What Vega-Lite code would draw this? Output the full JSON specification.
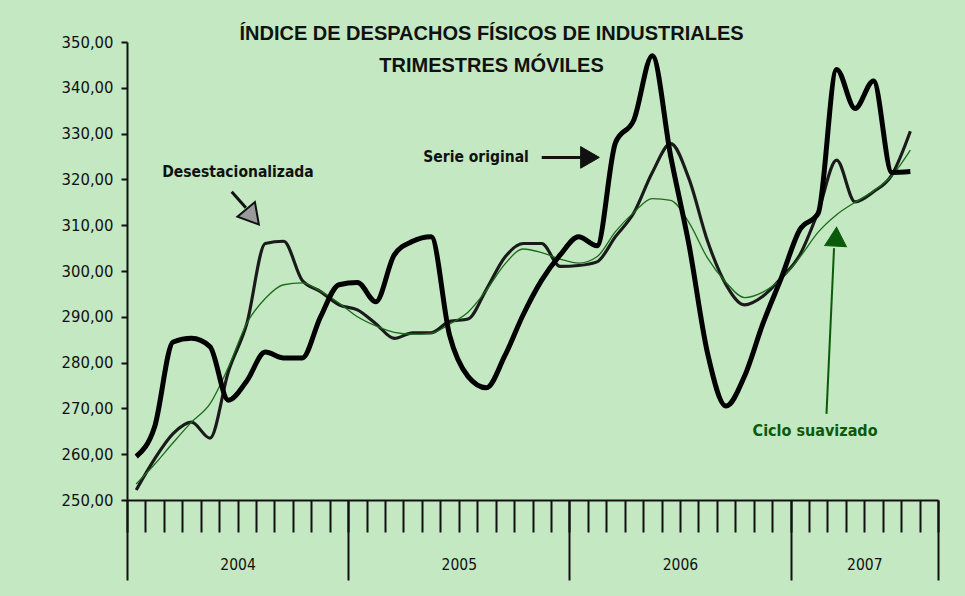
{
  "$schema": "https://vega.github.io/schema/vega-lite/v6.json",
  "width": 811,
  "height": 458,
  "autosize": "none",
  "padding": {"left": 127, "top": 42, "right": 27, "bottom": 96},
  "background": "#c3e8c2",
  "title": {
    "text": ["ÍNDICE DE DESPACHOS FÍSICOS DE INDUSTRIALES", "TRIMESTRES MÓVILES"],
    "font": "Liberation Sans",
    "fontWeight": "bold",
    "fontSize": 20,
    "lineHeight": 32,
    "anchor": "middle",
    "dx": -41,
    "offset": -62,
    "baseline": "bottom",
    "color": "#111111"
  },
  "config": {
    "view": {"stroke": null},
    "axis": {"grid": false, "domainColor": "#111111", "tickColor": "#111111", "labelColor": "#111111", "labelFont": "Liberation Sans Narrow, DejaVu Sans Condensed, sans-serif"}
  },
  "datasets": {
    "series": [
      {"m": 0.5, "original": 259.5, "desest": 252.2, "ciclo": 253.5},
      {"m": 1.5, "original": 266, "desest": 259, "ciclo": 257.8},
      {"m": 2.5, "original": 284.5, "desest": 264.5, "ciclo": 262.5},
      {"m": 3.5, "original": 285.3, "desest": 267, "ciclo": 267},
      {"m": 4.5, "original": 283.5, "desest": 263.5, "ciclo": 271},
      {"m": 5.5, "original": 271.8, "desest": 278, "ciclo": 279},
      {"m": 6.5, "original": 276, "desest": 288.5, "ciclo": 288.6},
      {"m": 7.5, "original": 282.3, "desest": 306, "ciclo": 294},
      {"m": 8.5, "original": 281, "desest": 306.5, "ciclo": 297},
      {"m": 9.5, "original": 281, "desest": 298, "ciclo": 297.4},
      {"m": 10.5, "original": 290, "desest": 295.5, "ciclo": 295.6},
      {"m": 11.5, "original": 297, "desest": 292.6, "ciclo": 293},
      {"m": 12.5, "original": 297.5, "desest": 291.5, "ciclo": 290},
      {"m": 13.5, "original": 293.3, "desest": 288.5, "ciclo": 288},
      {"m": 14.5, "original": 303.5, "desest": 285.3, "ciclo": 286.6},
      {"m": 15.5, "original": 306.5, "desest": 286.5, "ciclo": 286.2},
      {"m": 16.5, "original": 307.5, "desest": 286.5, "ciclo": 286.4},
      {"m": 17.5, "original": 286, "desest": 289, "ciclo": 288.4},
      {"m": 18.5, "original": 277, "desest": 289.5, "ciclo": 291},
      {"m": 19.5, "original": 274.5, "desest": 296, "ciclo": 295.8},
      {"m": 20.5, "original": 281.5, "desest": 303, "ciclo": 301.5},
      {"m": 21.5, "original": 290.5, "desest": 306, "ciclo": 304.8},
      {"m": 22.5, "original": 298, "desest": 306, "ciclo": 304},
      {"m": 23.5, "original": 303.5, "desest": 301, "ciclo": 302.6},
      {"m": 24.5, "original": 307.5, "desest": 301.2, "ciclo": 301.7},
      {"m": 25.5, "original": 305.5, "desest": 302, "ciclo": 303.1},
      {"m": 26.5, "original": 328, "desest": 307.5, "ciclo": 308.6},
      {"m": 27.5, "original": 333, "desest": 312.7, "ciclo": 312.8},
      {"m": 28.5, "original": 347, "desest": 321.5, "ciclo": 315.8},
      {"m": 29.5, "original": 325, "desest": 327.8, "ciclo": 315.4},
      {"m": 30.5, "original": 305.5, "desest": 320, "ciclo": 310.5},
      {"m": 31.5, "original": 282, "desest": 306.5, "ciclo": 302.8},
      {"m": 32.5, "original": 270.5, "desest": 297, "ciclo": 297.5},
      {"m": 33.5, "original": 277, "desest": 292.6, "ciclo": 294.2},
      {"m": 34.5, "original": 288.5, "desest": 294.5, "ciclo": 295.4},
      {"m": 35.5, "original": 298.5, "desest": 298.5, "ciclo": 298.3},
      {"m": 36.5, "original": 309, "desest": 303.5, "ciclo": 303},
      {"m": 37.5, "original": 312.6, "desest": 313, "ciclo": 308.5},
      {"m": 38.5, "original": 344, "desest": 324.2, "ciclo": 312.3},
      {"m": 39.5, "original": 335.5, "desest": 315.1, "ciclo": 315},
      {"m": 40.5, "original": 341.5, "desest": 317.3, "ciclo": 317.5},
      {"m": 41.5, "original": 321.5, "desest": 321, "ciclo": 320.8},
      {"m": 42.5, "original": 321.7, "desest": 330.5, "ciclo": 326.4}
    ],
    "labels": [
      {"t": "Desestacionalizada", "m": 6.02, "v": 321.6},
      {"t": "Serie original", "m": 18.94, "v": 324.9},
      {"t": "Ciclo suavizado", "m": 37.33, "v": 265.1}
    ],
    "arrows": [
      {"a": "desest", "m": 5.68, "m2": 6.45, "v": 317.3, "v2": 313.8},
      {"a": "original", "m": 22.5, "m2": 24.69, "v": 324.8, "v2": 324.8},
      {"a": "ciclo", "m": 37.95, "m2": 38.36, "v": 268.8, "v2": 305.0}
    ],
    "heads": [
      {"a": "desest", "m": 6.81, "v": 311.8},
      {"a": "original", "m": 25.12, "v": 324.8},
      {"a": "ciclo", "m": 38.47, "v": 307.5}
    ]
  },
  "resolve": {"axis": {"x": "independent"}},
  "encoding": {
    "y": {
      "field": "v", "type": "quantitative",
      "scale": {"domain": [250, 350], "nice": false, "zero": false},
      "axis": {"values": [250,260,270,280,290,300,310,320,330,340,350], "labelExpr": "replace(format(datum.value, '.2f'), '.', ',')", "tickSize": 6, "tickWidth": 2, "domainWidth": 2, "labelFontSize": 16.5, "labelPadding": 8, "title": null}
    }
  },
  "layer": [
    {
      "data": {"name": "series"},
      "transform": [{"fold": ["desest", "ciclo", "original"], "as": ["serie", "v"]}],
      "mark": {"type": "line", "interpolate": "monotone"},
      "encoding": {
        "x": {
          "field": "m", "type": "quantitative",
          "scale": {"domain": [0, 44], "nice": false, "zero": false},
          "axis": {"orient": "bottom", "values": [0,1,2,3,4,5,6,7,8,9,10,11,12,13,14,15,16,17,18,19,20,21,22,23,24,25,26,27,28,29,30,31,32,33,34,35,36,37,38,39,40,41,42,43,44], "labels": false, "tickSize": 32, "tickWidth": 2, "domainWidth": 2, "title": null}
        },
        "color": {"field": "serie", "type": "nominal", "scale": {"domain": ["original", "desest", "ciclo"], "range": ["#000000", "#1a1a1a", "#1d6a1d"]}, "legend": null},
        "strokeWidth": {"field": "serie", "type": "nominal", "scale": {"domain": ["original", "desest", "ciclo"], "range": [5, 1.3, 1.6]}, "legend": null},
        "order": {"field": "serie", "sort": "descending"}
      }
    },
    {
      "data": {"name": "labels"},
      "transform": [{"filter": "datum.t != 'Ciclo suavizado'"}],
      "mark": {"type": "text", "font": "Liberation Sans Narrow, DejaVu Sans Condensed, sans-serif", "fontWeight": "bold", "fontSize": 15.5, "color": "#111111"},
      "encoding": {
        "x": {"field": "m", "type": "quantitative", "axis": {"orient": "bottom", "values": [0, 12, 24, 36, 44], "labels": false, "tickSize": 80, "tickWidth": 2, "domain": false, "title": null}},
        "text": {"field": "t"}
      }
    },
    {
      "data": {"name": "labels"},
      "transform": [{"filter": "datum.t == 'Ciclo suavizado'"}],
      "mark": {"type": "text", "font": "Liberation Sans Narrow, DejaVu Sans Condensed, sans-serif", "fontWeight": "bold", "fontSize": 16, "color": "#0b5a0b"},
      "encoding": {
        "x": {"field": "m", "type": "quantitative", "axis": null},
        "text": {"field": "t"}
      }
    },
    {
      "data": {"name": "arrows"},
      "transform": [{"filter": "datum.a != 'ciclo'"}],
      "mark": {"type": "rule", "color": "#111111", "strokeWidth": 3},
      "encoding": {
        "x": {"field": "m", "type": "quantitative", "axis": {"orient": "bottom", "values": [6, 18, 30, 40], "ticks": false, "domain": false, "labelExpr": "datum.value == 6 ? '2004' : datum.value == 18 ? '2005' : datum.value == 30 ? '2006' : '2007'", "labelPadding": 57, "labelFontSize": 15.5, "title": null}},
        "x2": {"field": "m2"},
        "y2": {"field": "v2"}
      }
    },
    {
      "data": {"name": "arrows"},
      "transform": [{"filter": "datum.a == 'ciclo'"}],
      "mark": {"type": "rule", "color": "#0b5a0b", "strokeWidth": 2},
      "encoding": {
        "x": {"field": "m", "type": "quantitative", "axis": null},
        "x2": {"field": "m2"},
        "y2": {"field": "v2"}
      }
    },
    {
      "data": {"name": "heads"},
      "transform": [{"filter": "datum.a == 'desest'"}],
      "mark": {"type": "point", "shape": "triangle-up", "filled": true, "fill": "#9a9a9a", "stroke": "#111111", "strokeWidth": 2, "opacity": 1, "size": 520, "angle": 140},
      "encoding": {
        "x": {"field": "m", "type": "quantitative", "axis": null}
      }
    },
    {
      "data": {"name": "heads"},
      "transform": [{"filter": "datum.a == 'original'"}],
      "mark": {"type": "point", "shape": "triangle-up", "filled": true, "fill": "#111111", "stroke": "#111111", "strokeWidth": 1, "opacity": 1, "size": 467, "angle": 90},
      "encoding": {
        "x": {"field": "m", "type": "quantitative", "axis": null}
      }
    },
    {
      "data": {"name": "heads"},
      "transform": [{"filter": "datum.a == 'ciclo'"}],
      "mark": {"type": "point", "shape": "triangle-up", "filled": true, "fill": "#0b5a0b", "stroke": "#0b5a0b", "strokeWidth": 1, "opacity": 1, "size": 470, "angle": 3},
      "encoding": {
        "x": {"field": "m", "type": "quantitative", "axis": null}
      }
    }
  ]
}
